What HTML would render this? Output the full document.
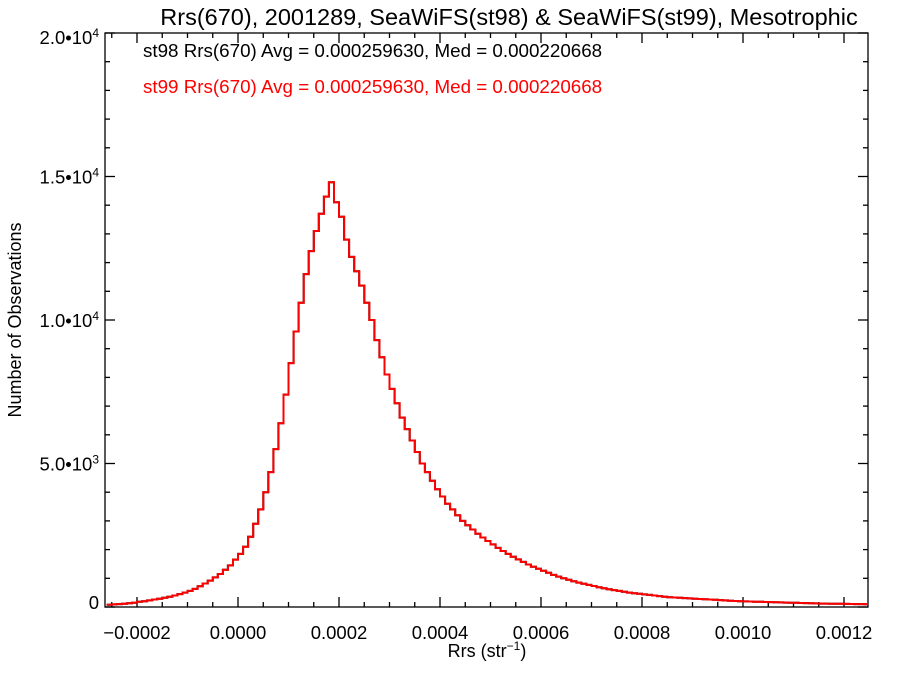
<!DOCTYPE html>
<html><head><meta charset="utf-8"><style>
body{margin:0;background:#fff}
svg{display:block;font-family:"Liberation Sans",Arial,sans-serif}
</style></head><body>
<svg id="c" width="900" height="675">
<rect width="900" height="675" fill="#fff"/>
<text x="509" y="25" text-anchor="middle" font-size="23.5">Rrs(670), 2001289, SeaWiFS(st98) &amp; SeaWiFS(st99), Mesotrophic</text>
<text x="143" y="57" font-size="18.8">st98 Rrs(670) Avg = 0.000259630, Med = 0.000220668</text>
<text x="143" y="93" font-size="18.8" fill="#ff0000">st99 Rrs(670) Avg = 0.000259630, Med = 0.000220668</text>
<text x="487" y="657" text-anchor="middle" font-size="18">Rrs (str<tspan font-size="12" dy="-7">−1</tspan><tspan dy="7">)</tspan></text>
<text transform="translate(21,320) rotate(-90)" text-anchor="middle" font-size="18">Number of Observations</text>
<g id="axes"></g>
<g id="marks"></g>
</svg>
<script>
const binStart=-0.00026, binWidth=0.00001;
const counts98=[80,90,100,110,130,150,180,200,230,260,290,320,360,400,450,500,560,630,720,820,920,1030,1150,1300,1450,1650,
1850,2100,2450,2900,3400,4000,4700,5500,6400,7400,8500,9600,10600,11600,12400,13100,13700,14300,14800,14100,13600,12800,12200,11700,11200,10600,10000,9300,8700,8100,7600,7100,6600,6200,5800,5400,5000,4700,4400,4100,3850,3600,3400,3200,3000,2850,2700,2550,2420,2300,2180,2060,1950,1850,1750,1660,1570,1480,1400,1330,1260,1190,1120,1060,1000,950,900,850,810,770,730,690,650,620,590,560,530,500,480,460,440,420,400,380,360,340,330,320,310,300,290,280,270,260,250,240,230,220,210,200,195,190,185,180,175,170,165,160,155,150,145,140,135,130,125,120,118,115,112,110,108,105,102,100,98];
const counts99=counts98.slice();
const xTicks=[-0.0002,0,0.0002,0.0004,0.0006,0.0008,0.0010,0.0012];
const xTickLabels=["−0.0002","0.0000","0.0002","0.0004","0.0006","0.0008","0.0010","0.0012"];
const yTicks=[0,5000,10000,15000,20000];
const yTickLabels=["0","5.0•10<tspan font-size='12' dy='-7'>3</tspan>","1.0•10<tspan font-size='12' dy='-7'>4</tspan>","1.5•10<tspan font-size='12' dy='-7'>4</tspan>","2.0•10<tspan font-size='12' dy='-7'>4</tspan>"];
const L=105,R=868,T=33,B=607;
const X=v=>238+v*505000, Y=c=>B-c*(B-T)/20000;
const NS="http://www.w3.org/2000/svg";
const ax=document.getElementById('axes'), mk=document.getElementById('marks');
function el(t,a,p){const e=document.createElementNS(NS,t);for(const k in a)e.setAttribute(k,a[k]);p.appendChild(e);return e;}
const frame=el('rect',{x:L,y:T,width:R-L,height:B-T,fill:'none',stroke:'#000','stroke-width':1.3},ax);


for(let v=-0.00025;v<=0.00125;v+=0.00005){const x=X(v);if(x<L||x>R)continue;const maj=Math.abs(v/0.0002-Math.round(v/0.0002))<1e-6;const len=maj?10:5;
el('line',{x1:x,x2:x,y1:B,y2:B-len,stroke:'#000','stroke-width':1.3},ax);el('line',{x1:x,x2:x,y1:T,y2:T+len,stroke:'#000','stroke-width':1.3},ax);}
for(let c=0;c<=20000;c+=1000){const y=Y(c);const len=c%5000===0?10:5;
el('line',{x1:L,x2:L+len,y1:y,y2:y,stroke:'#000','stroke-width':1.3},ax);el('line',{x1:R,x2:R-len,y1:y,y2:y,stroke:'#000','stroke-width':1.3},ax);}
xTicks.forEach((v,i)=>{const t=el('text',{x:X(v),y:639,'text-anchor':'middle','font-size':18.5},ax);t.textContent=xTickLabels[i];

});
yTicks.forEach((c,i)=>{const t=el('text',{x:99,y:Y(c)+(c===20000?11:(c===0?2:7)),'text-anchor':'end','font-size':18.5},ax);t.innerHTML=yTickLabels[i];

});
function step(arr,color,name){let d='';arr.forEach((c,i)=>{let x0=X(binStart+i*binWidth),x1=X(binStart+(i+1)*binWidth);x0=Math.max(L,Math.min(R,x0));x1=Math.max(L,Math.min(R,x1));const y=Y(c);d+=(i===0?'M':'L')+x0.toFixed(1)+','+y.toFixed(1)+'L'+x1.toFixed(1)+','+y.toFixed(1);});
const p=el('path',{d:d,fill:'none',stroke:color,'stroke-width':2},mk);

}
step(counts98,'#000','histogram-st98');
step(counts99,'#ff0000','histogram-st99');
</script>
</body></html>
